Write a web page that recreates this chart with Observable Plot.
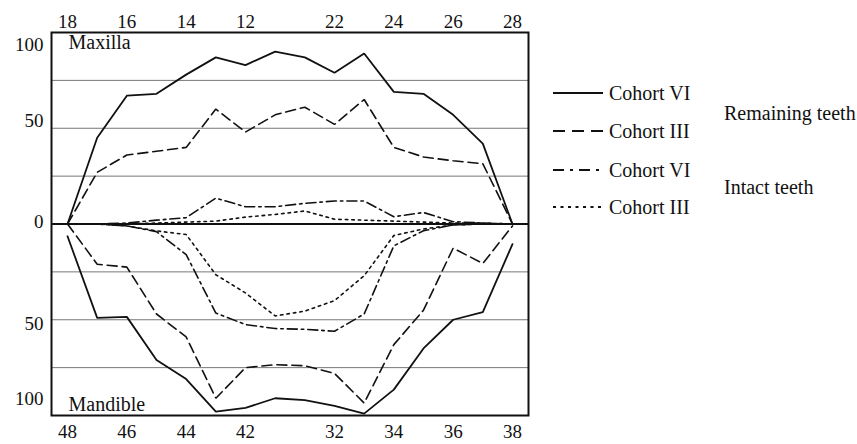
<!DOCTYPE html>
<html><head><meta charset="utf-8">
<script src="https://cdn.jsdelivr.net/npm/d3@7"></script>
<script src="https://cdn.jsdelivr.net/npm/@observablehq/plot@0.6"></script>
<style>
body{margin:0;background:#fff;}
#wrap{position:relative;width:857px;height:444px;overflow:hidden;font-family:"Liberation Serif","Times New Roman",serif;}
#legend{position:absolute;left:0;top:0;pointer-events:none;}
</style>
</head><body><div id="wrap"></div>
<script>
// Tooth positions (FDI notation)
const teethTop = ["18","17","16","15","14","13","12","11","21","22","23","24","25","26","27","28"];
const teethBottom = ["48","47","46","45","44","43","42","41","31","32","33","34","35","36","37","38"];
const labeledIdx = [0,2,4,6,9,11,13,15];

// Maxilla (%)
const maxVIremain  = [0,45,67,68,78,87,83,90,87,79,89,69,68,57,42,0];
const maxIIIremain = [0,27,36,38,40,60,48,57,61,52,65,40,35,33,31.5,0];
const maxVIintact  = [0,0,0.5,2,3.3,13.5,9,9,10.8,12,12,3.8,6,1.2,0.5,0];
const maxIIIintact = [0,0,0,0.5,1,1.5,3.6,5,6.8,2.5,2,1.5,1,0.5,0.5,0];
// Mandible (%)
const manVIremain  = [6.4,49,48.5,71,81,98,96,91,92,95,99,86.5,65,50,46,10.5];
const manIIIremain = [0,21,22.5,47,59,91,75,73.5,74,78,93.5,63,45,12.6,20.6,1];
const manVIintact  = [0,0,1,4,16,46.5,52.5,54.6,55,56,47,11.4,3.5,0.5,0,0];
const manIIIintact = [0,0,1,3.6,5.5,26.5,36,48,45.5,40,27,6,2.6,0.5,0,0];

const legendLabels = ["Cohort VI","Cohort III","Cohort VI","Cohort III"];
const groupLabels = ["Remaining teeth","Intact teeth"];
const dashes = ["none","10,5","10,4,2.5,4","2.5,4"];

const series = [
  {arr: maxVIremain,  sign: 1,  style: 0},
  {arr: maxIIIremain, sign: 1,  style: 1},
  {arr: maxVIintact,  sign: 1,  style: 2},
  {arr: maxIIIintact, sign: 1,  style: 3},
  {arr: manVIremain,  sign: -1, style: 0},
  {arr: manIIIremain, sign: -1, style: 1},
  {arr: manVIintact,  sign: -1, style: 2},
  {arr: manIIIintact, sign: -1, style: 3}
];

const font = "Liberation Serif";
const lineMarks = series.map(s => Plot.lineY(s.arr.map((v,i) => ({i, v: s.sign*v})), {
  x: "i", y: "v", stroke: "#111", strokeWidth: s.style === 0 ? 1.8 : 1.6,
  strokeDasharray: dashes[s.style], strokeLinejoin: "miter"
}));

const yAx = (t, dy) => Plot.axisY([t], {tickSize: 0, tickPadding: 8, dy, fontSize: 19, label: null, tickFormat: d => String(Math.abs(d)), fill: "#111"});

const chart = Plot.plot({
  width: 857, height: 444,
  marginLeft: 51, marginRight: 329, marginTop: 32, marginBottom: 29,
  style: {fontFamily: font, background: "#fff", color: "#111"},
  x: {domain: [-0.54, 15.54], label: null},
  y: {domain: [-100, 100], label: null},
  marks: [
    Plot.ruleY([-75,-50,-25,25,50,75], {stroke: "#777", strokeWidth: 1}),
    ...lineMarks,
    Plot.ruleY([0], {stroke: "#111", strokeWidth: 2.2}),
    Plot.frame({stroke: "#111", strokeWidth: 2}),
    Plot.axisX(labeledIdx, {anchor: "top", tickSize: 0, tickPadding: 5, fontSize: 19, label: null, tickFormat: i => teethTop[i], fill: "#111"}),
    Plot.axisX(labeledIdx, {anchor: "bottom", tickSize: 0, tickPadding: 9, fontSize: 19, label: null, tickFormat: i => teethBottom[i], fill: "#111"}),
    yAx(100, 12), yAx(50, -7), yAx(0, -2), yAx(-50, 4), yAx(-100, -17),
    Plot.text(["Maxilla"], {frameAnchor: "top-left", dx: 17, dy: 2, textAnchor: "start", lineAnchor: "top", fontSize: 20, fill: "#111"}),
    Plot.text(["Mandible"], {frameAnchor: "bottom-left", dx: 17, dy: -5, textAnchor: "start", lineAnchor: "bottom", fontSize: 20, fill: "#111"})
  ]
});
const wrap = document.getElementById("wrap");
wrap.appendChild(chart);

// Legend overlay (placed to the right of the plot)
const lg = d3.select(wrap).append("svg").attr("id","legend").attr("width",857).attr("height",444)
  .style("font-family", font);
const rowY = [93,131,170,207];
const legendDash = [null, "12,7", "11,6,3,6", "3,4.5"];
legendLabels.forEach((lab, k) => {
  lg.append("line").attr("x1",553).attr("x2",603).attr("y1",rowY[k]).attr("y2",rowY[k])
    .attr("stroke","#111").attr("stroke-width",1.8).attr("stroke-dasharray", legendDash[k]);
  lg.append("text").attr("x",609).attr("y",rowY[k]).attr("dominant-baseline","central")
    .attr("font-size",20).attr("fill","#111").text(lab);
});
const groupY = [113,187];
groupLabels.forEach((g, k) => {
  lg.append("text").attr("x",724).attr("y",groupY[k]).attr("dominant-baseline","central")
    .attr("font-size",20).attr("fill","#111").text(g);
});
</script>
</body></html>
